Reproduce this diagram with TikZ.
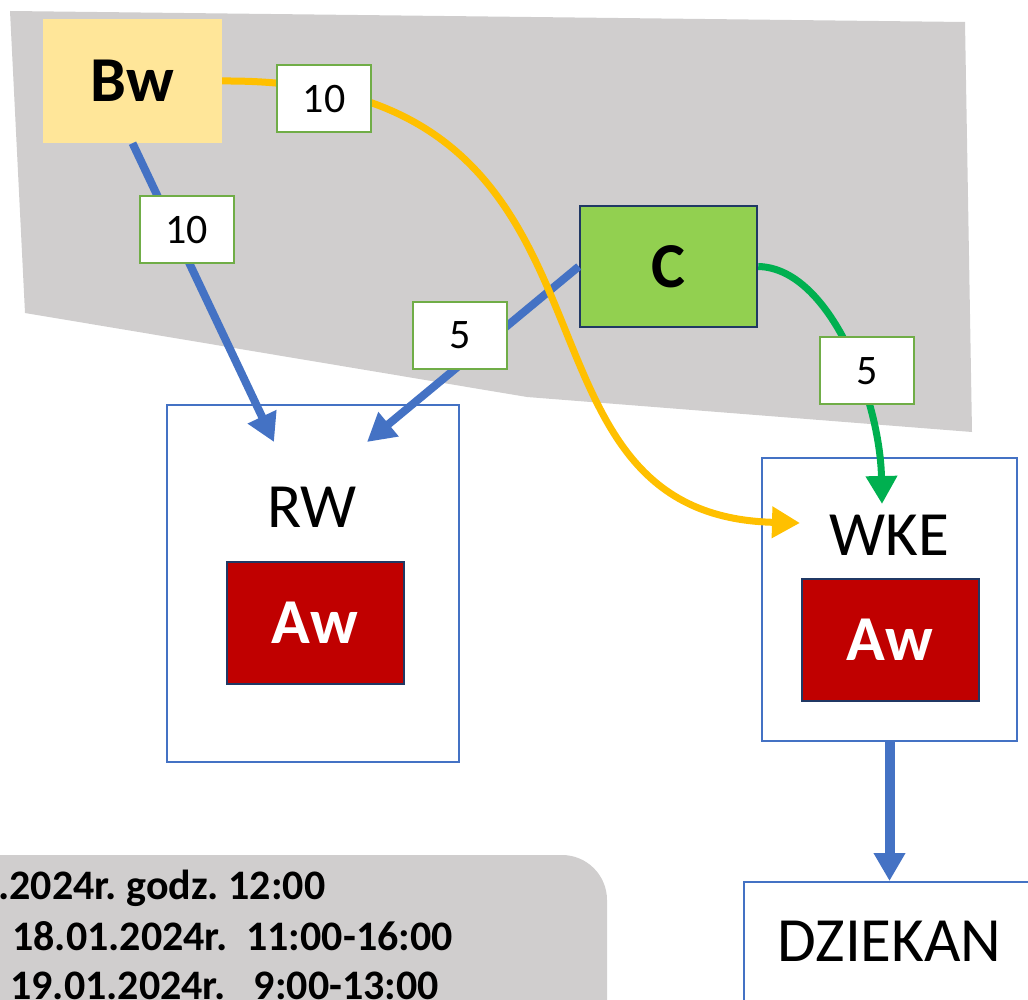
\documentclass[tikz,border=0pt]{standalone}
\usepackage{fontspec}
\setmainfont{Carlito}
\usetikzlibrary{arrows.meta,positioning,calc}
\definecolor{bwyellow}{HTML}{FFE699}
\definecolor{cgreen}{HTML}{92D050}
\definecolor{awred}{HTML}{C00000}
\definecolor{navy}{HTML}{203864}
\definecolor{unitblue}{HTML}{4472C4}
\definecolor{lblgreen}{HTML}{70AD47}
\definecolor{areagray}{HTML}{D0CECE}
\definecolor{flowgold}{HTML}{FFC000}
\definecolor{flowgreen}{HTML}{00B050}
\tikzset{
  unit/.style = {rectangle, draw=unitblue, line width=2pt, inner sep=0pt},% jednostka
  unitname/.style = {inner sep=0pt, font=\fontsize{63}{70}\selectfont},
  bwnode/.style = {rectangle, fill=bwyellow, minimum width=179pt,
    minimum height=124pt, font=\fontsize{64}{70}\selectfont\bfseries},
  cnode/.style = {rectangle, fill=cgreen, draw=navy, line width=2.5pt,
    minimum width=177pt, minimum height=121pt,
    font=\fontsize{64}{70}\selectfont\bfseries},
  awnode/.style = {rectangle, fill=awred, draw=navy, line width=2pt,
    text=white, minimum width=177pt, minimum height=122pt,
    font=\fontsize{64}{70}\selectfont\bfseries},
  lbl/.style = {rectangle, fill=white, draw=lblgreen, line width=2pt,
    minimum width=94pt, minimum height=67pt, inner sep=0pt, text=black,
    font=\fontsize{42}{48}\selectfont},% etykieta
  flow/.style = {line width=8pt, -{Triangle[length=28pt,width=30pt]}},
  dateline/.style = {anchor=base west, inner sep=0pt,
    font=\fontsize{42}{50}\selectfont\bfseries\frenchspacing}
}
\begin{document}
\begin{tikzpicture}[x=1pt,y=-1pt]
\useasboundingbox (0,0) rectangle (1028,1000);
\clip (0,0) rectangle (1028,1000);
% tlo
\fill[areagray] (10,11) -- (965,22) -- (972,432) -- (527,397) -- (25,313) -- cycle;
\fill[areagray, rounded corners=45pt] (-60,855) rectangle (607,1060);
% jednostki
\node[unit, minimum width=292pt, minimum height=357pt] (RW) at (313,583.5) {};
\node[unit, minimum width=255pt, minimum height=283pt] (WKE) at (889.5,599.5) {};
\node[unit, minimum width=300pt, minimum height=160pt, anchor=north west] (DZ) at (743,881) {};
\node[unitname] (rwname) at (312,507) {RW};
\node[unitname] (wkename) at (889,535) {WKE};
\node[unitname] (dzname) at (889.5,941) {DZIEKAN};
\node[awnode] (awrw) at (315,623) {Aw};
\node[awnode] (awwke) at (890,640) {Aw};
\node[bwnode] (Bw) at (132.5,81) {Bw};
\node[cnode] (C) at (668.5,266.5) {C};
% terminy
\node[dateline] (date1) at (-2,899) {.2024r. godz. 12:00};
\node[dateline] (date2) at (12,950) {18.01.2024r.\ \ 11:00-16:00};
\node[dateline] (date3) at (10,999) {19.01.2024r.\ \ \ 9:00-13:00};
% przeplywy
\coordinate (rwin1) at ($(RW.north west)+(108,38)$);
\coordinate (rwin2) at ($(RW.north west)+(201,38)$);
\coordinate (wkein1) at ($(WKE.north west)+(39,66)$);
\coordinate (wkein2) at ($(WKE.north west)+(121,47)$);
\draw[flow, unitblue] (Bw.south) -- node[lbl, pos=.29, xshift=13pt] (l1) {10} (rwin1);
\draw[flow, unitblue] (C.west) -- node[lbl, pos=.5, xshift=-13pt, yshift=19pt] (l2) {5} (rwin2);
\draw[flow, flowgold, line width=7pt] (Bw.east) .. controls (660,78) and (480,515) .. node[lbl, pos=.088, yshift=-9pt] (l3) {10} (wkein1);
\draw[flow, flowgreen, line width=7pt] (C.east) .. controls (830,268) and (880,400) .. node[lbl, pos=.6, xshift=9pt, yshift=5pt] (l4) {5} (wkein2);
\draw[flow, unitblue, line width=10pt] (WKE.south) -- (WKE.south |- DZ.north);
\end{tikzpicture}
\end{document}
